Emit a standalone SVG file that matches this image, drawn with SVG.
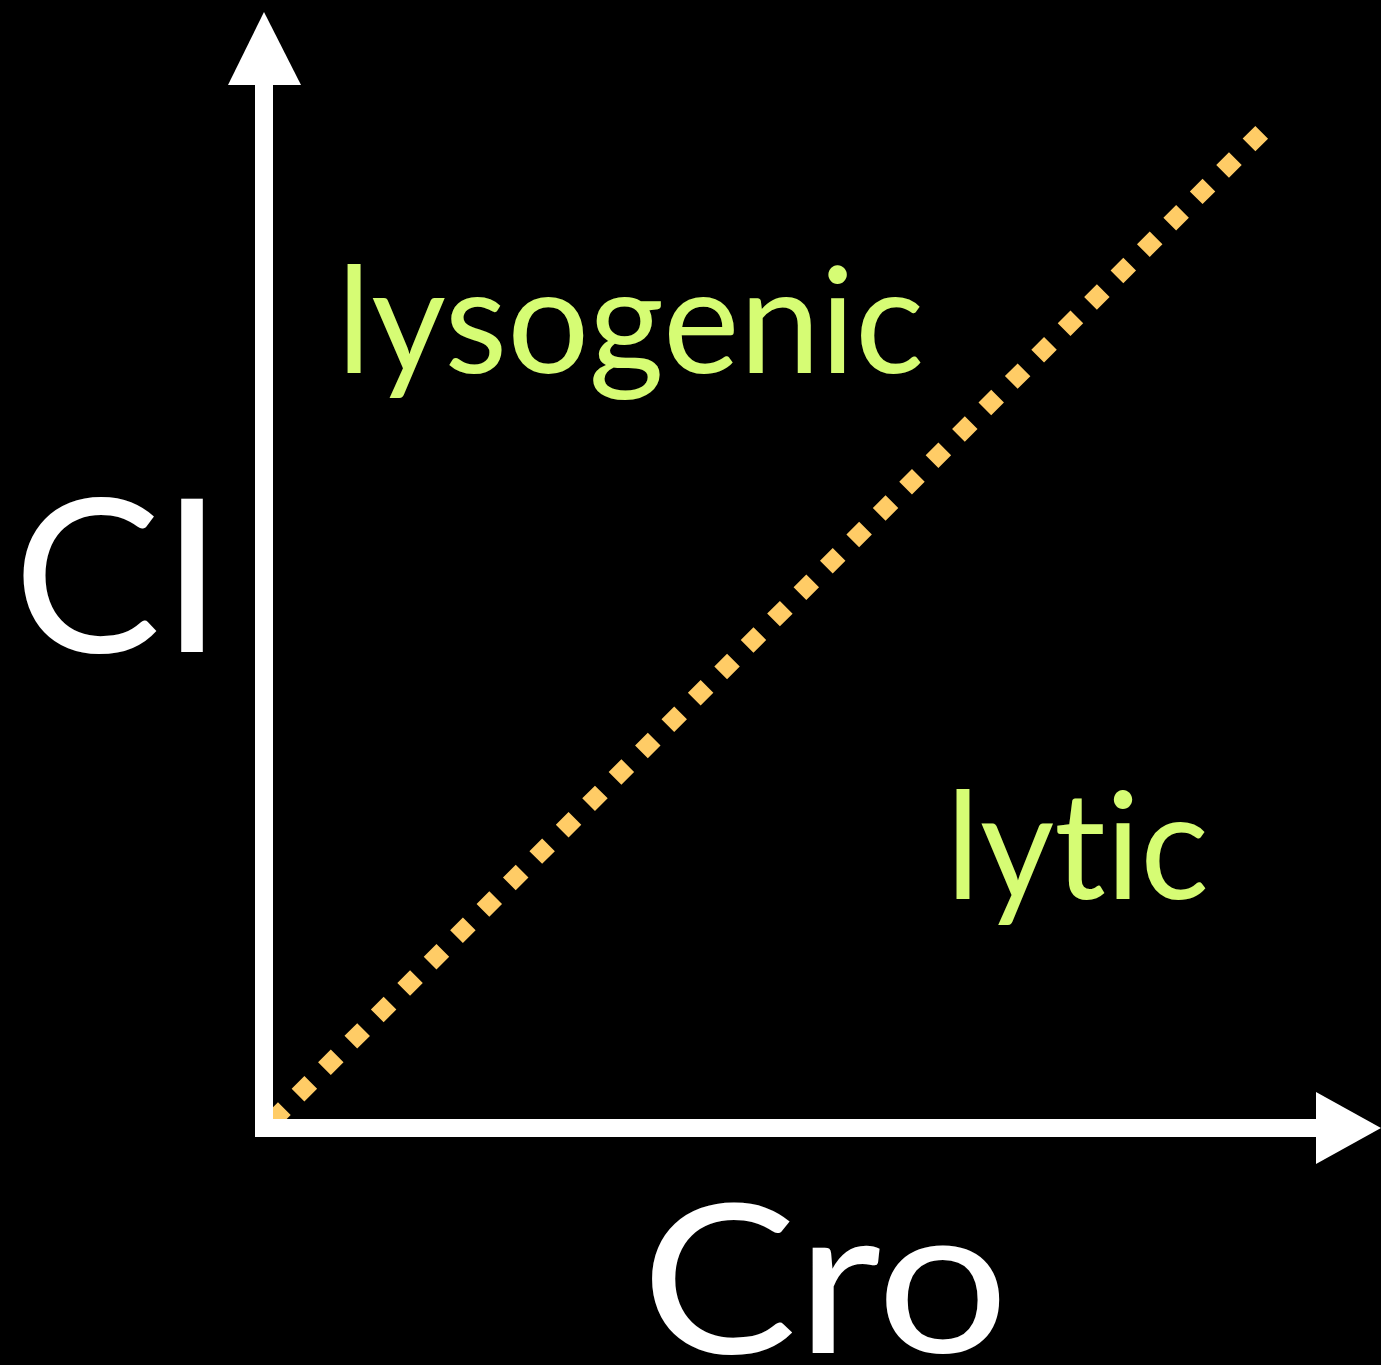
<svg xmlns="http://www.w3.org/2000/svg" width="1381" height="1365" viewBox="0 0 1381 1365">
<style>
.axis{fill:#FFFFFF}
.lab{font-family:Lato,"Noto Sans","Liberation Sans",sans-serif;font-variant-ligatures:none;}
.white{fill:#FFFFFF}
.green{fill:#D6FC74}
</style>
<rect width="1381" height="1365" fill="#000000"/>
<g id="divider">
<line x1="271.6" y1="1121.4" x2="1261.7" y2="132.3" stroke="#FFCC66" stroke-width="18" stroke-dasharray="18 19.34"/>
</g>
<g id="connectors">
<rect class="axis" x="255" y="85" width="18" height="1052"/>
<polygon class="axis" points="228,85 301,85 264,12"/>
<rect class="axis" x="255" y="1119" width="1061" height="18"/>
<polygon class="axis" points="1316,1092 1316,1164 1381,1128"/>
</g>
<g id="label-lysogenic"><text class="lab green" x="337" y="373" font-size="148" textLength="587" lengthAdjust="spacingAndGlyphs">lysogenic</text></g>
<g id="label-lytic"><text class="lab green" x="946" y="899" font-size="150" textLength="263" lengthAdjust="spacingAndGlyphs">lytic</text></g>
<g id="label-CI"><text class="lab white" x="13" y="652" font-size="213" textLength="210" lengthAdjust="spacingAndGlyphs">CI</text></g>
<g id="label-Cro"><text class="lab white" x="641" y="1353" font-size="208" textLength="368" lengthAdjust="spacingAndGlyphs">Cro</text></g>
</svg>
